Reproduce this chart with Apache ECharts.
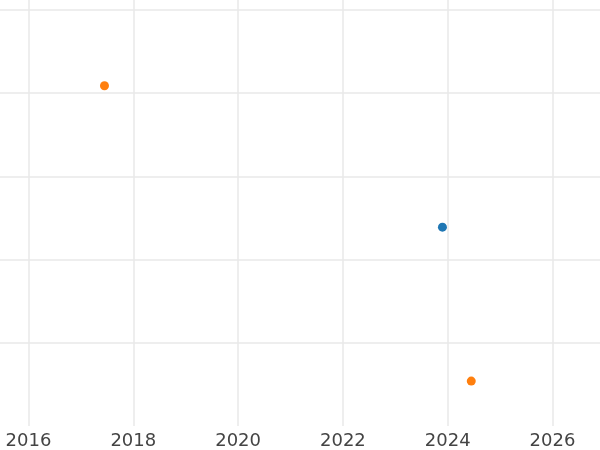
<!DOCTYPE html>
<html><head><meta charset="utf-8">
<script src="https://cdn.jsdelivr.net/npm/echarts@6/dist/echarts.min.js"></script>
<style>html,body{margin:0;padding:0;background:#fff}#c{width:600px;height:450px}</style>
</head><body><div id="c"></div>
<script>
// Data
const seriesA = [[2023.90, 2.39]];               // blue
const seriesB = [[2017.45, 4.09], [2024.45, 0.54]]; // orange
const xTickYears = [2016, 2018, 2020, 2022, 2024, 2026];

const chart = echarts.init(document.getElementById('c'), null, {renderer: 'canvas'});
chart.setOption({
  animation: false,
  backgroundColor: '#ffffff',
  grid: {left: 0, right: 0, top: 0, bottom: 23.5, containLabel: false},
  xAxis: {
    type: 'value', min: 2015.456, max: 2026.907,
    axisLine: {show: false},
    axisTick: {show: false, customValues: xTickYears},
    axisLabel: {
      show: true, color: '#444', fontSize: 18, fontFamily: 'DejaVu Sans', margin: 6,
      customValues: xTickYears,
      formatter: v => String(Math.round(v))
    },
    splitLine: {show: false}
  },
  yAxis: {
    type: 'value', min: 0, max: 5.12, interval: 1,
    axisLine: {show: false}, axisTick: {show: false}, axisLabel: {show: false},
    splitLine: {show: true, showMinLine: false, showMaxLine: false, lineStyle: {color: '#e8e8e8', width: 1.5}}
  },
  series: [
    {type: 'scatter', data: seriesA, symbolSize: 9, itemStyle: {color: '#1f77b4', opacity: 1}, z: 3,
     markLine: {
       silent: true, symbol: 'none', label: {show: false}, animation: false,
       lineStyle: {color: '#e8e8e8', width: 1.5, type: 'solid'},
       data: xTickYears.map(y => ({xAxis: y}))
     }},
    {type: 'scatter', data: seriesB, symbolSize: 9, itemStyle: {color: '#ff7f0e', opacity: 1}, z: 3}
  ]
});
</script></body></html>
